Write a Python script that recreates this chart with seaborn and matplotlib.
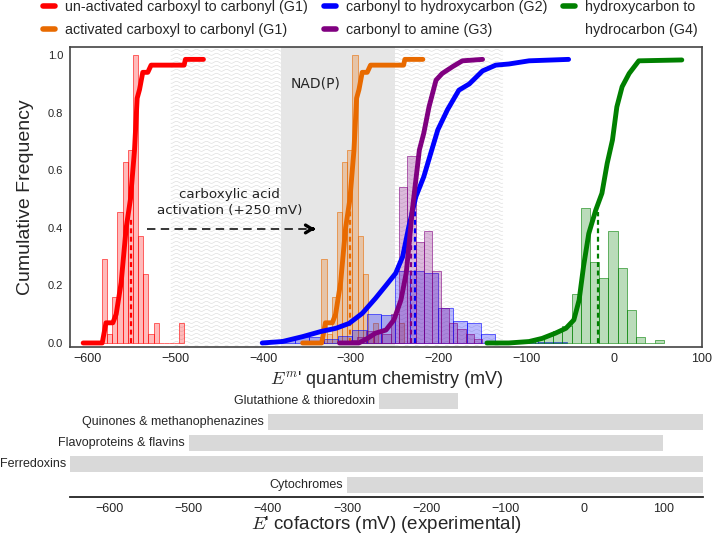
import numpy as np
import matplotlib
matplotlib.use("Agg")
import matplotlib.pyplot as plt
from matplotlib.lines import Line2D
import seaborn as sns

# ---------------- data ----------------
labels = ["un-activated carboxyl to carbonyl (G1)",
          "activated carboxyl to carbonyl (G1)",
          "carbonyl to hydroxycarbon (G2)",
          "carbonyl to amine (G3)",
          "hydroxycarbon to", "hydrocarbon (G4)"]
colors = ["#ff0000", "#e86a00", "#0000ff", "#800080", "#008000"]

# histogram bin edges and bar heights
red_edges = [-583.5, -577.6, -571.8, -565.9, -560.0, -554.2, -548.3, -542.4, -536.5,
             -530.7, -524.8, -518.9, -513.1, -507.2, -501.3, -495.5, -489.6]
red_heights = [0.29, 0.03, 0.16, 0.455, 0.63, 0.67, 1.0, 0.37, 0.24,
               0.03, 0.07, 0, 0, 0, 0, 0.07]
orange_edges = [-333.5, -327.6, -321.8, -315.9, -310.0, -304.2, -298.3, -292.4, -286.5,
                -280.7, -274.8, -268.9, -263.1, -257.2, -251.3, -245.5, -239.6]
orange_heights = [0.29, 0.03, 0.16, 0.455, 0.63, 0.67, 1.0, 0.37, 0.24,
                  0.03, 0.07, 0, 0, 0, 0, 0.07]
blue_edges = [-396.1, -379.8, -363.5, -347.2, -330.9, -314.6, -298.3, -282.0, -265.7,
              -249.4, -233.1, -216.8, -200.5, -184.2, -167.9, -151.6, -135.3, -119.0,
              -102.7, -86.4, -70.1, -53.8]
blue_heights = [0.007, 0.015, 0.02, 0.02, 0.015, 0.025, 0.045, 0.10, 0.097,
                0.25, 0.25, 0.243, 0.12, 0.075, 0.07, 0.03, 0.008, 0.007,
                0.007, 0.005, 0.004]
purple_edges = [-302.1, -292.6, -283.1, -273.6, -264.1, -254.6, -245.1, -235.6, -226.1,
                -216.6, -207.1, -197.6, -188.1, -178.6, -169.1, -159.6, -150.1]
purple_heights = [0.01, 0.02, 0.04, 0.035, 0.03, 0.10, 0.54, 0.65, 0.35,
                  0.39, 0.25, 0.12, 0.07, 0.05, 0.03, 0.015]
green_edges = [-111.6, -101.1, -90.6, -80.1, -69.6, -59.1, -48.6, -38.1, -27.6,
               -17.1, -6.6, 3.9, 14.4, 24.9, 35.4, 45.9, 56.4]
green_heights = [0.005, 0.005, 0.015, 0.028, 0.04, 0.06, 0.17, 0.47, 0.28,
                 0.225, 0.39, 0.26, 0.115, 0.022, 0.0, 0.01]

# cumulative frequency curves
red_cdf_x = [-605, -583.3, -579, -571.2, -567.4, -561.7, -556.0, -551.1, -546.5,
             -543.5, -540.8, -537.1, -531.4, -527.6, -490, -488.5, -468]
red_cdf_y = [0, 0, 0.07, 0.07, 0.10, 0.21, 0.40, 0.50, 0.67,
             0.85, 0.88, 0.94, 0.94, 0.965, 0.965, 0.985, 0.985]
orange_cdf_x = [-355, -333.3, -329, -321.2, -317.4, -311.7, -306.0, -301.1, -296.5,
                -293.5, -290.8, -287.1, -281.4, -277.6, -240, -238.5, -218]
orange_cdf_y = [0, 0, 0.07, 0.07, 0.10, 0.21, 0.40, 0.50, 0.67,
                0.85, 0.88, 0.94, 0.94, 0.965, 0.965, 0.985, 0.985]
blue_cdf_x = [-401, -378, -355, -334, -317, -302, -287, -272, -260, -249, -241, -234,
              -226, -217, -209, -201, -190, -177, -165, -150, -135, -120, -97, -52]
blue_cdf_y = [0.0, 0.005, 0.022, 0.04, 0.051, 0.068, 0.103, 0.155, 0.20, 0.242, 0.30, 0.404,
              0.508, 0.577, 0.659, 0.74, 0.81, 0.878, 0.90, 0.945, 0.965, 0.969, 0.98, 0.985]
purple_cdf_x = [-313, -291, -281, -272, -260, -251, -243, -237, -234, -230, -226, -222,
                -217, -211, -203, -196, -184, -173, -150]
purple_cdf_y = [0, 0, 0.016, 0.034, 0.045, 0.08, 0.149, 0.242, 0.334, 0.462, 0.566, 0.67,
                0.728, 0.82, 0.913, 0.936, 0.96, 0.98, 0.985]
green_cdf_x = [-145, -120, -97, -82, -67, -55, -46, -40, -35, -29, -21, -14, -8, -2,
               3, 9, 17, 28, 77]
green_cdf_y = [0, 0, 0.005, 0.016, 0.034, 0.051, 0.08, 0.149, 0.265, 0.38, 0.462, 0.52,
               0.624, 0.705, 0.82, 0.89, 0.936, 0.98, 0.983]

# medians (dashed lines) and their heights
medians = [-551, -301, -227, -231, -18.7]
median_tops = [0.43, 0.47, 0.46, 0.46, 0.455]

# background regions
wave_range = (-505, -127)
nadp_range = (-380, -250)

# cofactor ranges (bottom panel)
cofactors = ["Glutathione & thioredoxin", "Quinones & methanophenazines",
             "Flavoproteins & flavins", "Ferredoxins", "Cytochromes"]
cof_low = [-260, -400, -500, -650, -300]
cof_high = [-160, 150, 100, 150, 150]

top_xticks = [-600, -500, -400, -300, -200, -100, 0, 100]
top_yticks = [0.0, 0.2, 0.4, 0.6, 0.8, 1.0]
bottom_xticks = [-600, -500, -400, -300, -200, -100, 0, 100]

# ---------------- style ----------------
sns.set_style("white")
plt.rcParams["font.family"] = ["Liberation Sans", "DejaVu Sans"]
plt.rcParams["mathtext.fontset"] = "cm"
TXT = "#262626"

W, H = 712, 537
fig = plt.figure(figsize=(W / 100, H / 100), dpi=100)
ax = fig.add_axes([70 / W, 1 - 347 / H, 632 / W, 300 / H])
ax2 = fig.add_axes([70 / W, 1 - 497 / H, 633 / W, 106.5 / H])

# ---- background decorations ----
wx = np.linspace(wave_range[0], wave_range[1], 600)
for y0 in np.arange(-0.012, 1.03, 0.0139):
    ax.plot(wx, y0 + 0.0035 * np.sin(2 * np.pi * wx / 11.4), color="#dcdcdc",
            lw=0.45, zorder=0)
ax.axvspan(nadp_range[0], nadp_range[1], color="#e6e6e6", lw=0, zorder=0.5)

# ---- histograms ----
hist_sets = [(red_edges, red_heights), (orange_edges, orange_heights),
             (blue_edges, blue_heights), (purple_edges, purple_heights),
             (green_edges, green_heights)]
for (edges, heights), c in zip(hist_sets, colors):
    e = np.asarray(edges, dtype=float)
    centers = list((e[:-1] + e[1:]) / 2)
    sns.histplot(x=centers, weights=list(heights), bins=list(edges), ax=ax, color=c,
                 alpha=0.27, edgecolor=c, linewidth=0.4, zorder=1)

# ---- median dashed lines ----
for m, t, c in zip(medians, median_tops, colors):
    ax.plot([m, m], [0, t], color=c, lw=1.6, ls=(0, (2.2, 1.6)), zorder=2)

# ---- cumulative curves ----
cdfs = [(red_cdf_x, red_cdf_y), (orange_cdf_x, orange_cdf_y), (blue_cdf_x, blue_cdf_y),
        (purple_cdf_x, purple_cdf_y), (green_cdf_x, green_cdf_y)]
for (cx, cy), c in zip(cdfs, colors):
    sns.lineplot(x=cx, y=cy, ax=ax, color=c, lw=3.5, sort=False, estimator=None,
                 zorder=3, solid_capstyle="round")

# ---- annotations ----
ax.text(-340, 0.90, "NAD(P)", ha="center", va="center", fontsize=10,
        family="DejaVu Sans", color=TXT, zorder=4)
ax.text(-438.5, 0.488, "carboxylic acid\nactivation (+250 mV)", ha="center",
        va="center", fontsize=9.7, family="DejaVu Sans", color="#222222",
        linespacing=1.25, zorder=4)
ax.plot([-532, -344], [0.396, 0.396], color="black", lw=1.1,
        ls=(0, (5.5, 3.5)), zorder=4)
ax.annotate("", xy=(-341, 0.396), xytext=(-347, 0.396),
            arrowprops=dict(arrowstyle="->,head_length=0.45,head_width=0.28",
                            lw=2.4, color="black"), zorder=4)

ax.set_xlim(-620, 100)
ax.set_ylim(-0.014, 1.028)
ax.set_xticks(top_xticks)
ax.set_yticks(top_yticks)
ax.set_yticklabels([f"{v:.1f}" for v in top_yticks])
ax.tick_params(axis="x", labelsize=9, length=0, pad=4, colors=TXT)
ax.tick_params(axis="y", labelsize=8, length=0, pad=5, colors=TXT)
ax.set_xlabel(r"$E^{m}$' quantum chemistry (mV)", fontsize=13, color=TXT, labelpad=3)
ax.set_ylabel("Cumulative Frequency", fontsize=14, color=TXT, labelpad=10)
for s in ax.spines.values():
    s.set_color("#444444")
    s.set_linewidth(1.2)

# ---- legend ----
handles = [Line2D([0], [0], color=c, lw=4, solid_capstyle="round") for c in colors]
handles.append(Line2D([0], [0], color="none", lw=4))
fig.legend(handles, labels, ncol=3, loc="upper left", bbox_to_anchor=(43 / W, 1.0),
           frameon=False, fontsize=10.3, handlelength=0.85, handletextpad=0.7,
           columnspacing=1.1, borderpad=0, borderaxespad=0, labelspacing=0.62,
           labelcolor=TXT)

# ---------------- bottom panel ----------------
ypos = np.arange(len(cofactors))[::-1]
lo = np.asarray(cof_low, dtype=float)
hi = np.asarray(cof_high, dtype=float)
ax2.barh(ypos, hi - lo, left=lo, height=0.76, color="#d9d9d9", lw=0)
for name, l, y in zip(cofactors, lo, ypos):
    ax2.text(l - 5, y, name, ha="right", va="center", fontsize=9, color=TXT)
ax2.set_xlim(-650, 150)
ax2.set_ylim(-0.57, 4.5)
ax2.set_yticks([])
ax2.set_xticks(bottom_xticks)
ax2.tick_params(axis="x", labelsize=9, length=0, pad=4, colors=TXT)
sns.despine(ax=ax2, left=True, top=True, right=True)
ax2.spines["bottom"].set_color("#222222")
ax2.spines["bottom"].set_linewidth(1.3)
ax2.set_xlabel(r"$E$' cofactors (mV) (experimental)", fontsize=13.5, color=TXT)
ax2.xaxis.set_label_coords(0.5, -0.255)
ax2.xaxis.label.set_va("center")

fig.savefig("out.png", dpi=100)
